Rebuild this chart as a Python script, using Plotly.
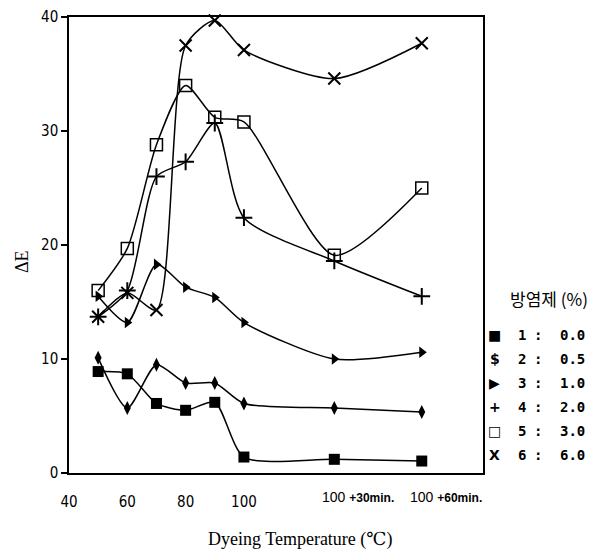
import plotly.graph_objects as go

# ---- data -------------------------------------------------------------
# x positions of the measurement points on the temperature axis
# (the two holding-time points sit to the right of 100 ℃)
x_points = [50, 60, 70, 80, 90, 100, 131, 161]

s1_0_0 = [8.9, 8.7, 6.1, 5.5, 6.2, 1.4, 1.2, 1.05]
s2_0_5 = [10.1, 5.7, 9.5, 7.9, 7.9, 6.1, 5.7, 5.35]
s3_1_0 = [15.5, 13.2, 18.3, 16.3, 15.4, 13.2, 10.0, 10.6]
s4_2_0 = [13.7, 16.0, 26.0, 27.3, 30.7, 22.4, 18.6, 15.5]
s5_3_0 = [16.0, 19.7, 28.8, 34.0, 31.2, 30.8, 19.1, 25.0]
s6_6_0 = [13.7, 15.8, 14.3, 37.5, 39.7, 37.1, 34.6, 37.7]

y_ticks = [0, 10, 20, 30, 40]
x_ticks = [40, 60, 80, 100]
x_tick_labels = ["40", "60", "80", "100"]
hold_positions = [131, 161]
hold_base = ["100", "100"]
hold_suffix = ["+30min.", "+60min."]

legend_title = "방염제 (%)"
legend_symbols = ["■", "$", "▶", "+", "□", "X"]
legend_numbers = ["1", "2", "3", "4", "5", "6"]
legend_values = ["0.0", "0.5", "1.0", "2.0", "3.0", "6.0"]

# ---- figure -----------------------------------------------------------
# the page body adds an 8px margin, so the figure is drawn 8px smaller
OFF = 8
W, H = 603 - OFF, 552 - OFF
L, R, T, B = 69 - OFF, 120, 17 - OFF, 79
PW, PH = W - L - R, H - T - B


def px(x):
    """reference-picture pixel x -> paper x"""
    return (x - OFF - L) / PW


def py(y):
    """reference-picture pixel y -> paper y"""
    return (H - B - (y - OFF)) / PH


series = [
    (s1_0_0, dict(symbol="square", size=11, color="black")),
    (s2_0_5, dict(symbol="diamond-tall", size=10, color="black")),
    (s3_1_0, dict(symbol="triangle-right", size=10, color="black")),
    (s4_2_0, dict(symbol="cross-thin", size=12, color="black",
                  line=dict(width=2, color="black"))),
    (s5_3_0, dict(symbol="square-open", size=12, color="black",
                  line=dict(width=1.5, color="black"))),
    (s6_6_0, dict(symbol="x-thin", size=12, color="black",
                  line=dict(width=2, color="black"))),
]

fig = go.Figure()
for i, (vals, mk) in enumerate(series):
    fig.add_trace(go.Scatter(
        x=x_points, y=vals, mode="lines+markers",
        line=dict(color="black", width=1.5, shape="spline", smoothing=0.7),
        marker=mk, name=legend_values[i], showlegend=False,
        cliponaxis=False,
    ))

tick_font = dict(family="Liberation Sans Narrow, DejaVu Sans Condensed, Liberation Sans, sans-serif",
                 size=15, color="black")

fig.update_xaxes(
    range=[40, 182], tickvals=x_ticks, ticktext=x_tick_labels,
    showline=True, linecolor="black", linewidth=1.5, mirror=True,
    ticks="", ticklabelstandoff=14, showgrid=False, zeroline=False,
    tickfont=tick_font, automargin=False,
)
fig.update_yaxes(
    range=[0, 40], tickvals=y_ticks,
    showline=True, linecolor="black", linewidth=1.5, mirror=True,
    ticks="outside", ticklen=6, tickwidth=1.5, tickcolor="black",
    showgrid=False, zeroline=False, tickfont=tick_font, automargin=False,
)

annotations = []
for pos, base, suf in zip(hold_positions, hold_base, hold_suffix):
    annotations.append(dict(
        x=pos, y=0, xref="x", yref="y",
        text=base + " <span style='font-size:12px'><b>" + suf + "</b></span>",
        showarrow=False,
        xanchor="left", yanchor="top", xshift=-14, yshift=-14,
        font=dict(family="Liberation Sans, sans-serif", size=14, color="black"),
    ))


def ann(x, y, text, font, **kw):
    d = dict(x=x, y=y, xref="paper", yref="paper", text=text, showarrow=False,
             xanchor="center", yanchor="middle", font=font)
    d.update(kw)
    annotations.append(d)


ann(px(300), py(539), "Dyeing Temperature (℃)",
    dict(family="Liberation Serif, DejaVu Serif, serif", size=18, color="black"))
ann(px(22), py(262), "ΔE",
    dict(family="Liberation Serif, DejaVu Serif, serif", size=18, color="black"),
    textangle=-90)
ann(px(549), py(298), legend_title,
    dict(family="Noto Sans CJK KR, sans-serif", size=17, color="black"))

row_y = [335, 359, 383, 407, 431, 455]
leg_font = dict(family="DejaVu Sans Mono, monospace", size=14, color="black")
sym_font = dict(family="DejaVu Sans, sans-serif", size=14, color="black")
for i in range(len(legend_values)):
    yy = py(row_y[i])
    ann(px(495), yy, "<b>" + legend_symbols[i] + "</b>", sym_font)
    ann(px(522), yy, "<b>" + legend_numbers[i] + "</b>", leg_font)
    ann(px(538), yy, "<b>:</b>", leg_font)
    ann(px(572), yy, "<b>" + legend_values[i] + "</b>", leg_font)

fig.update_layout(
    width=W, height=H,
    margin=dict(l=L, r=R, t=T, b=B, pad=0, autoexpand=False),
    paper_bgcolor="white", plot_bgcolor="white",
    annotations=annotations, showlegend=False,
)

fig.write_html("out.html")
